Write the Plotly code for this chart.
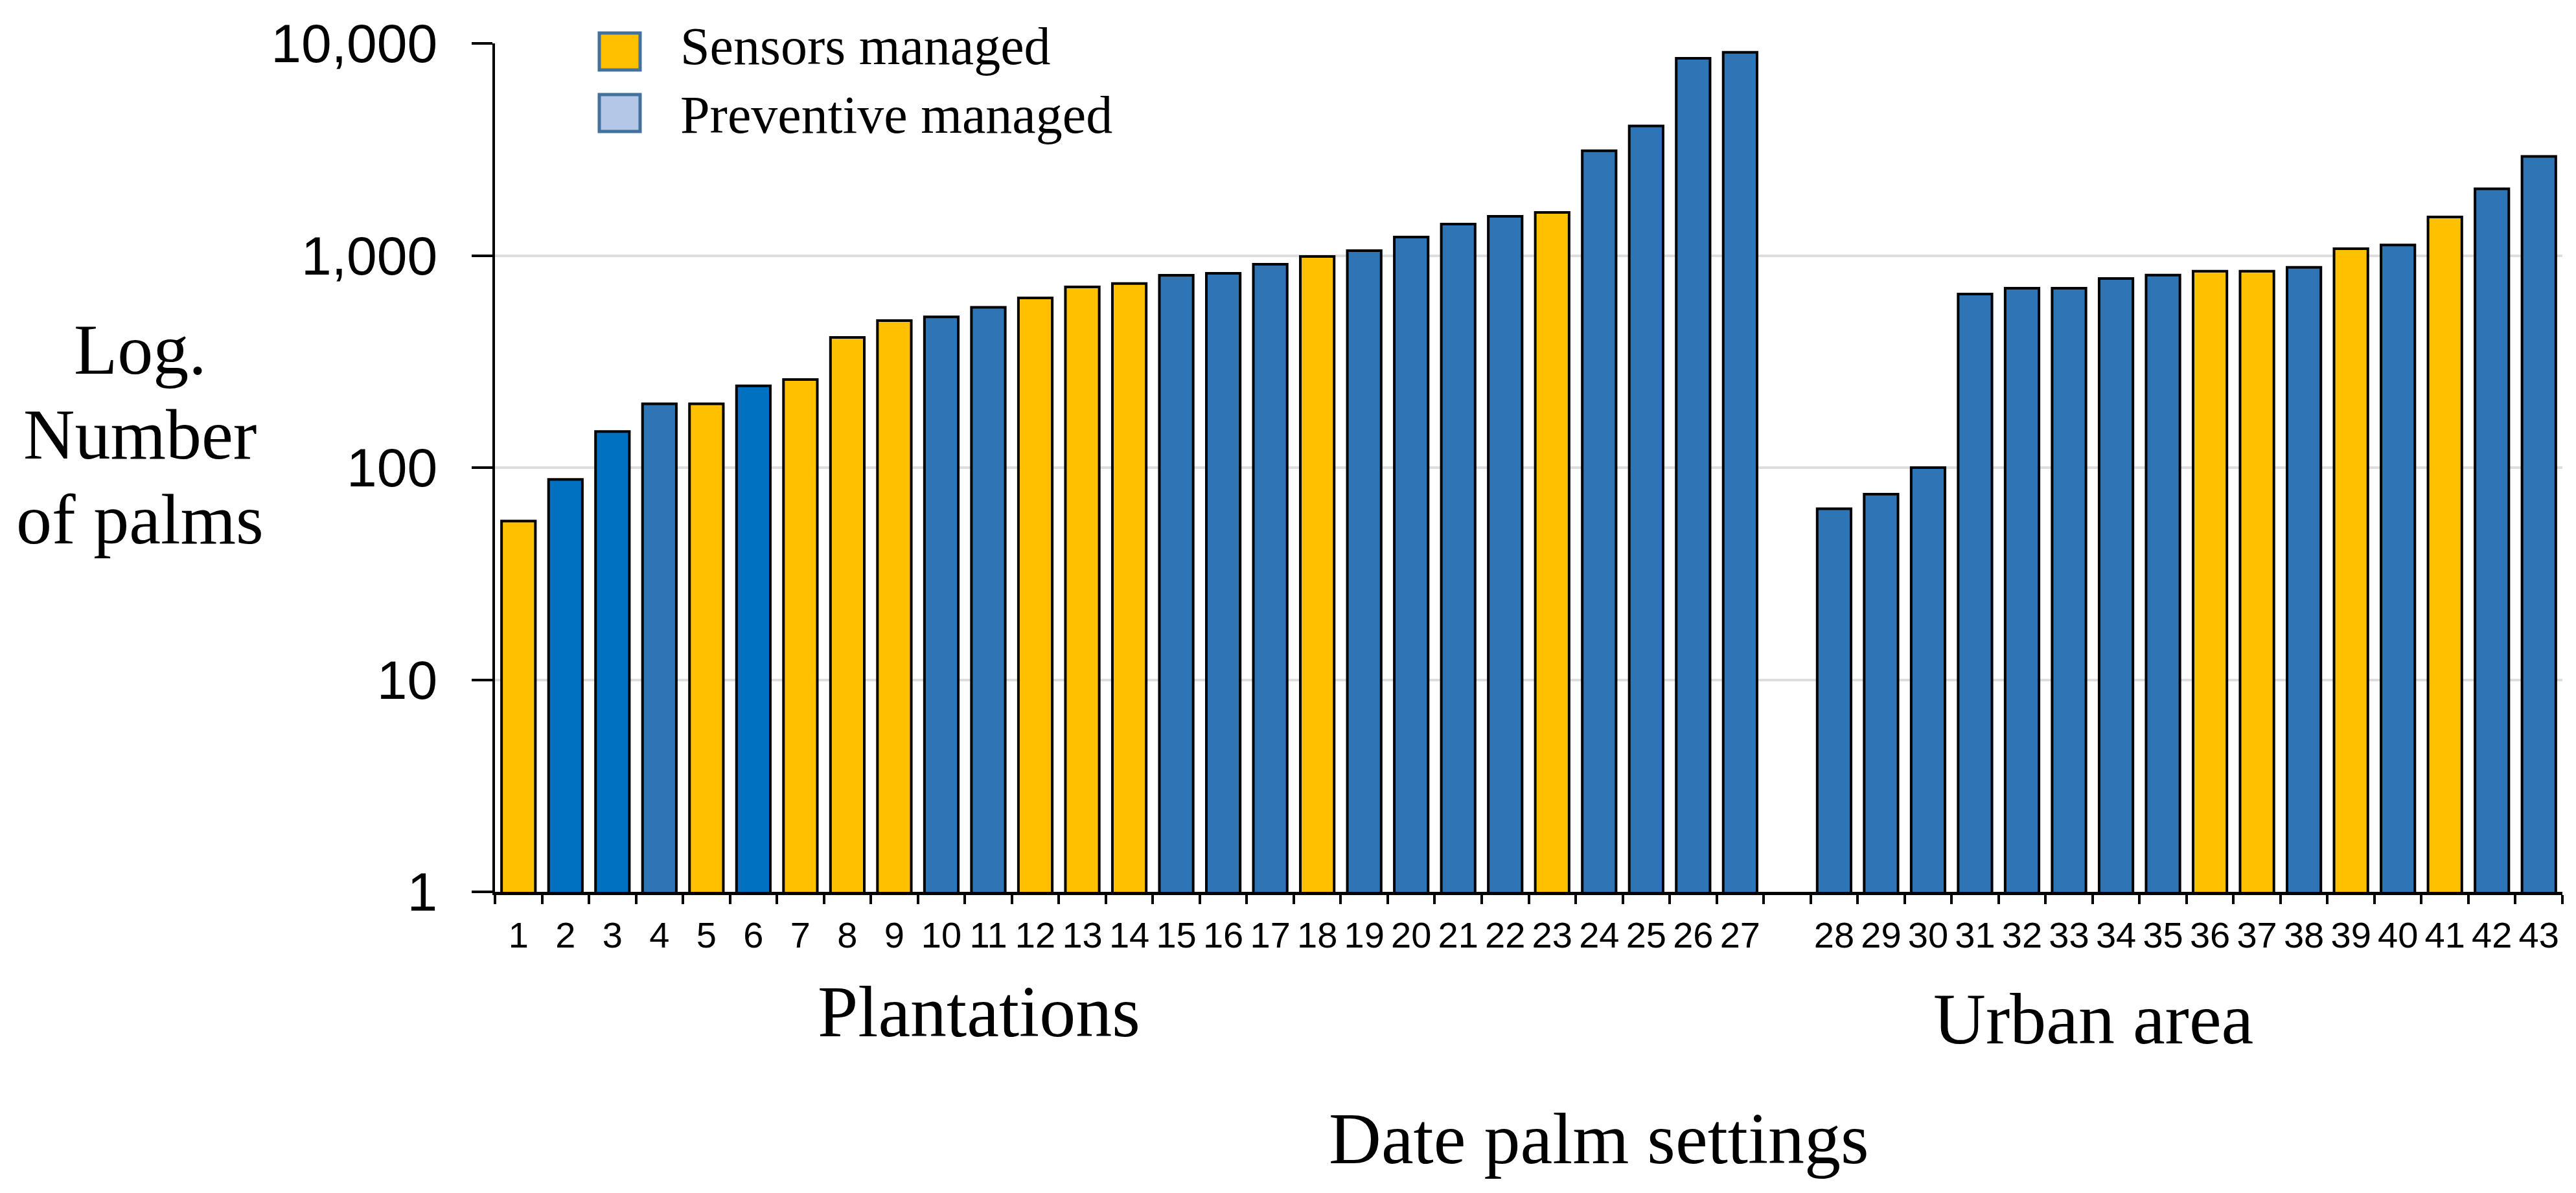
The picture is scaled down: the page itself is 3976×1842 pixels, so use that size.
import plotly.graph_objects as go

# ---------------- data ----------------
plantation_ids = ["1", "2", "3", "4", "5", "6", "7", "8", "9", "10", "11", "12", "13", "14",
                  "15", "16", "17", "18", "19", "20", "21", "22", "23", "24", "25", "26", "27"]
urban_ids = ["28", "29", "30", "31", "32", "33", "34", "35", "36", "37", "38", "39", "40",
             "41", "42", "43"]

plantation_palms = [56, 88, 148, 200, 200, 243, 260, 411, 493, 514, 570, 631, 711, 738,
                    807, 824, 910, 989, 1054, 1222, 1406, 1530, 1596, 3118, 4077, 8505, 9075]
urban_palms = [64, 75, 100, 658, 701, 701, 779, 809, 843, 843, 879, 1077, 1122, 1520, 2062, 2930]

plantation_mgmt = ["Sensors", "Preventive", "Preventive", "Preventive", "Sensors", "Preventive",
                   "Sensors", "Sensors", "Sensors", "Preventive", "Preventive", "Sensors",
                   "Sensors", "Sensors", "Preventive", "Preventive", "Preventive", "Sensors",
                   "Preventive", "Preventive", "Preventive", "Preventive", "Sensors",
                   "Preventive", "Preventive", "Preventive", "Preventive"]
urban_mgmt = ["Preventive", "Preventive", "Preventive", "Preventive", "Preventive", "Preventive",
              "Preventive", "Preventive", "Sensors", "Sensors", "Preventive", "Sensors",
              "Preventive", "Sensors", "Preventive", "Preventive"]

y_tick_vals = [1, 10, 100, 1000, 10000]
y_tick_text = ["1", "10", "100", "1,000", "10,000"]

legend_labels = ["Sensors managed", "Preventive managed"]

# ---------------- styles ----------------
GAP = " "  # empty category separating the two settings
COLOR = {"Sensors": "#FFC000", "Preventive": "#2E75B6"}
BRIGHT_BLUE_IDS = {"2", "3", "6"}
BRIGHT_BLUE = "#0070C0"
LEGEND_FILL = ["#FFC000", "#B4C7E7"]
LEGEND_EDGE = "#41719C"
SERIF = "Liberation Serif"
SANS = "Liberation Sans"

categories = plantation_ids + [GAP] + urban_ids
palms = plantation_palms + [None] + urban_palms
mgmt = plantation_mgmt + [None] + urban_mgmt

colors = []
for cat, m in zip(categories, mgmt):
    if m is None:
        colors.append("rgba(0,0,0,0)")
    elif m == "Preventive" and cat in BRIGHT_BLUE_IDS:
        colors.append(BRIGHT_BLUE)
    else:
        colors.append(COLOR[m])

fig = go.Figure()
fig.add_trace(go.Bar(
    x=categories, y=palms,
    marker=dict(color=colors, line=dict(color="black", width=4)),
    showlegend=False,
))

# plot-area geometry helpers (paper coords)
L, R, T, B = 756, 29, 59, 473
W, H = 3976, 1842
PW, PH = W - L - R, H - T - B


def px(x):
    return (x - L) / PW


def py(y):
    return (H - B - y) / PH


annotations = []
def add_text(text, x, y, size, xanchor="center"):
    annotations.append(dict(text=text, x=px(x), y=py(y), xref="paper", yref="paper",
                            xanchor=xanchor, yanchor="middle", showarrow=False,
                            font=dict(family=SERIF, size=size, color="black")))

add_text("Log.", 208, 532, 110)
add_text("Number", 208, 663, 110)
add_text("of palms", 208, 794, 110)
add_text("Plantations", 1503, 1554, 112)
add_text("Urban area", 3223, 1565, 112)
add_text("Date palm settings", 2460, 1750, 112)
add_text(legend_labels[0], 1040, 64, 82, xanchor="left")
add_text(legend_labels[1], 1040, 170, 82, xanchor="left")

shapes = []
for i, (y0, y1) in enumerate([(43, 100), (138, 195)]):
    shapes.append(dict(type="rect", xref="paper", yref="paper", layer="below",
                       x0=px(917), x1=px(980), y0=py(y1), y1=py(y0),
                       fillcolor=LEGEND_FILL[i], line=dict(color=LEGEND_EDGE, width=5)))

fig.update_layout(
    width=W, height=H,
    margin=dict(l=L, r=R, t=T, b=B),
    paper_bgcolor="white", plot_bgcolor="white",
    bargap=0.28,
    annotations=annotations,
    shapes=shapes,
    xaxis=dict(type="category", categoryorder="array", categoryarray=categories,
               tickson="boundaries", ticks="outside", ticklen=14, tickwidth=4,
               tickcolor="black", showline=True, linewidth=5, linecolor="black",
               tickangle=0, ticklabelstandoff=14,
               showgrid=False, tickfont=dict(family=SANS, size=56, color="black")),
    yaxis=dict(type="log", range=[0, 4], tickvals=y_tick_vals, ticktext=y_tick_text,
               ticks="outside", ticklen=32, tickwidth=4, tickcolor="black",
               showline=True, linewidth=4, linecolor="black",
               showgrid=True, gridcolor="#DDDDDD", gridwidth=4, zeroline=False,
               ticklabelstandoff=36,
               tickfont=dict(family=SANS, size=84, color="black")),
)

fig.write_html("out.html")
